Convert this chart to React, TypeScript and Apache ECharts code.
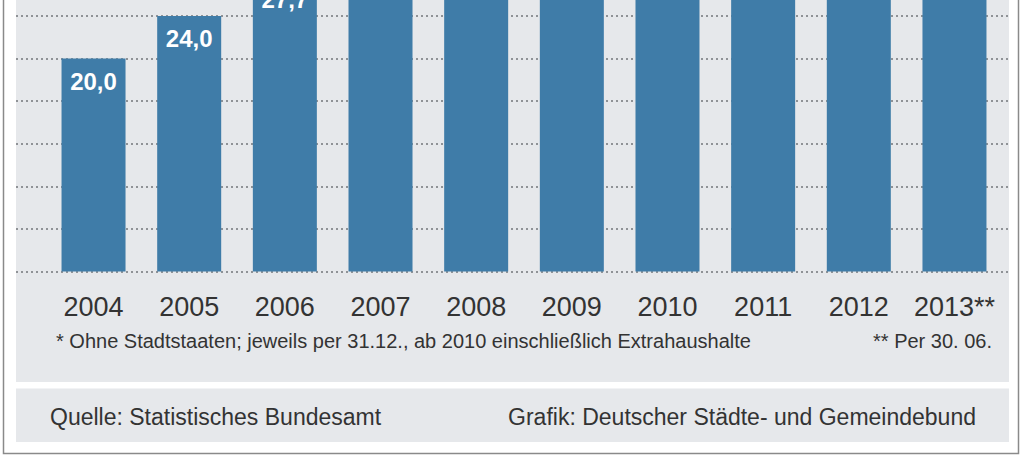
import React, { useEffect, useRef } from "react";
import * as echarts from "echarts";

const years = ["2004", "2005", "2006", "2007", "2008", "2009", "2010", "2011", "2012", "2013**"];
const values = [20.0, 24.0, 27.7, 28.9, 29.8, 34.6, 40.5, 44.1, 47.6, 48.3];
const yMin = 0;
const yMax = 52;
const yInterval = 4;
const footnoteLeft = "* Ohne Stadtstaaten; jeweils per 31.12., ab 2010 einschließlich Extrahaushalte";
const footnoteRight = "** Per 30. 06.";
const sourceText = "Quelle: Statistisches Bundesamt";
const creditText = "Grafik: Deutscher Städte- und Gemeindebund";

const FONT = "'Liberation Sans', Arial, Helvetica, sans-serif";
// The visible page shows only the lower part of the original graphic;
// the chart canvas extends above the viewport by OFFSET pixels.
const OFFSET = 320;

export default function App() {
  const ref = useRef<HTMLDivElement>(null);
  useEffect(() => {
    if (!ref.current) return;
    const chart = echarts.init(ref.current, null, { renderer: "svg" });
    const H = 456 + OFFSET;
    const baseline = 271.5 + OFFSET;
    const gridHeight = (yMax - yMin) * 10.65;
    const top = baseline - gridHeight;
    const bottom = H - baseline;
    const yAxisCommon = {
      type: "value" as const,
      min: yMin,
      max: yMax,
      interval: yInterval,
      axisLabel: { show: false },
      axisLine: { show: false },
      axisTick: { show: false },
    };
    chart.setOption({
      animation: false,
      backgroundColor: "#ffffff",
      grid: [
        { left: 16, right: 16, top, bottom },
        { left: 45.7, right: 21.7, top, bottom },
      ],
      xAxis: [
        { gridIndex: 0, type: "category", data: years, show: false },
        {
          gridIndex: 1,
          type: "category",
          data: years,
          axisLine: { show: false },
          axisTick: { show: false },
          axisLabel: {
            color: "#333333",
            fontSize: 27,
            fontFamily: FONT,
            margin: 22,
            interval: 0,
          },
        },
      ],
      yAxis: [
        {
          ...yAxisCommon,
          gridIndex: 0,
          splitLine: { show: true, lineStyle: { color: "#8f9296", width: 2, type: [2, 3] } },
        },
        { ...yAxisCommon, gridIndex: 1, splitLine: { show: false } },
      ],
      graphic: [
        {
          type: "rect",
          z: -1,
          shape: { x: 3.5, y: 0, width: 1015, height: OFFSET + 453.5 },
          style: { fill: "#ffffff", stroke: "#8a8a8a", lineWidth: 1.5 },
        },
        {
          type: "rect",
          z: -1,
          shape: { x: 16, y: 10, width: 993, height: OFFSET + 382 - 10 },
          style: { fill: "#e6e8eb" },
        },
        {
          type: "rect",
          z: -1,
          shape: { x: 16, y: OFFSET + 388.5, width: 993, height: 53.5 },
          style: { fill: "#e6e8eb" },
        },
        {
          type: "text",
          x: 56,
          y: OFFSET + 341,
          style: {
            text: footnoteLeft,
            fill: "#333333",
            font: `20px ${FONT}`,
            textVerticalAlign: "middle",
          },
        },
        {
          type: "text",
          x: 992,
          y: OFFSET + 341,
          style: {
            text: footnoteRight,
            fill: "#333333",
            font: `20px ${FONT}`,
            textAlign: "right",
            textVerticalAlign: "middle",
          },
        },
        {
          type: "text",
          x: 50,
          y: OFFSET + 417,
          style: {
            text: sourceText,
            fill: "#333333",
            font: `23px ${FONT}`,
            textVerticalAlign: "middle",
          },
        },
        {
          type: "text",
          x: 976,
          y: OFFSET + 417,
          style: {
            text: creditText,
            fill: "#333333",
            font: `23px ${FONT}`,
            textAlign: "right",
            textVerticalAlign: "middle",
          },
        },
      ],
      series: [
        {
          type: "bar",
          xAxisIndex: 1,
          yAxisIndex: 1,
          data: values,
          barWidth: 64,
          itemStyle: { color: "#3f7ca8" },
          label: {
            show: true,
            position: "insideTop",
            distance: 11,
            color: "#ffffff",
            fontSize: 24,
            fontWeight: "bold",
            fontFamily: FONT,
            formatter: (p: any) => p.value.toFixed(1).replace(".", ","),
          },
        },
      ],
    });
    return () => chart.dispose();
  }, []);
  return (
    <div
      ref={ref}
      style={{ position: "fixed", left: 0, top: -OFFSET, width: 1024, height: 456 + OFFSET }}
    />
  );
}
